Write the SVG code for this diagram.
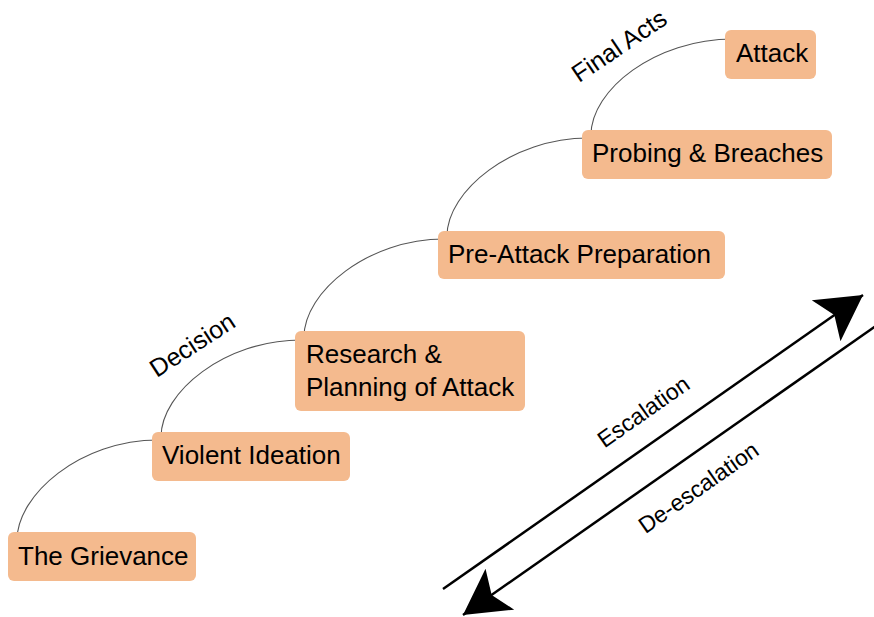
<svg xmlns="http://www.w3.org/2000/svg" width="874" height="617" viewBox="0 0 874 617">
<defs>
<style>
.box{fill:#F4BA8E;}
.t{font-family:"Liberation Sans",Arial,sans-serif;font-size:26px;fill:#000;}
.lbl{font-family:"Liberation Sans",Arial,sans-serif;font-size:25px;fill:#000;text-anchor:middle;}
.lbl2{font-family:"Liberation Sans",Arial,sans-serif;font-size:23px;fill:#000;text-anchor:middle;}
.curve{fill:none;stroke:#555;stroke-width:1.1;}
.arr{fill:none;stroke:#000;stroke-width:2.5;}
</style>
<marker id="head" markerUnits="userSpaceOnUse" markerWidth="60" markerHeight="60" viewBox="-50 -30 60 60" refX="0" refY="0" orient="auto">
<path d="M0,0 L-45,-25 L-35,0 L-45,25 Z" fill="#000"/>
</marker>
</defs>
<rect width="874" height="617" fill="#fff"/>
<g id="connectors">
<path class="curve" d="M17,540 C17,495 80,440 158,440 L161,440 L161,437"/>
<path class="curve" d="M161,437 C161,392 225,340 301,340 L304,340 L304,337"/>
<path class="curve" d="M304,337 C304,292 368,239 444,239 L447,239 L447,236"/>
<path class="curve" d="M447,236 C447,191 512,138 588,138 L591,138 L591,135"/>
<path class="curve" d="M591,135 C591,90 655,39 733,39"/>
<line class="arr" x1="443" y1="589" x2="863" y2="295" marker-end="url(#head)"/>
<line class="arr" x1="880" y1="323" x2="463" y2="615" marker-end="url(#head)"/>
</g>
<g id="grievance"><rect class="box" x="8" y="532" width="188" height="49" rx="6"/><text class="t" x="18" y="565">The Grievance</text></g>
<g id="violent-ideation"><rect class="box" x="152" y="432" width="198" height="49" rx="6"/><text class="t" x="162" y="464">Violent Ideation</text></g>
<g id="research"><rect class="box" x="295" y="331" width="230" height="80" rx="6"/><text class="t" x="306" y="363">Research &amp;</text><text class="t" x="306" y="396">Planning of Attack</text></g>
<g id="pre-attack"><rect class="box" x="438" y="231" width="287" height="48" rx="6"/><text class="t" x="448" y="263">Pre-Attack Preparation</text></g>
<g id="probing"><rect class="box" x="582" y="130" width="250" height="49" rx="6"/><text class="t" x="592" y="162">Probing &amp; Breaches</text></g>
<g id="attack"><rect class="box" x="725" y="30" width="91" height="49" rx="6"/><text class="t" x="736" y="62">Attack</text></g>
<g id="labels">
<text class="lbl" transform="translate(197,352) rotate(-33)">Decision</text>
<text class="lbl" transform="translate(624,53) rotate(-34)">Final Acts</text>
<text class="lbl2" transform="translate(648,418) rotate(-35)">Escalation</text>
<text class="lbl2" transform="translate(703,494) rotate(-35)">De-escalation</text>
</g>
</svg>
